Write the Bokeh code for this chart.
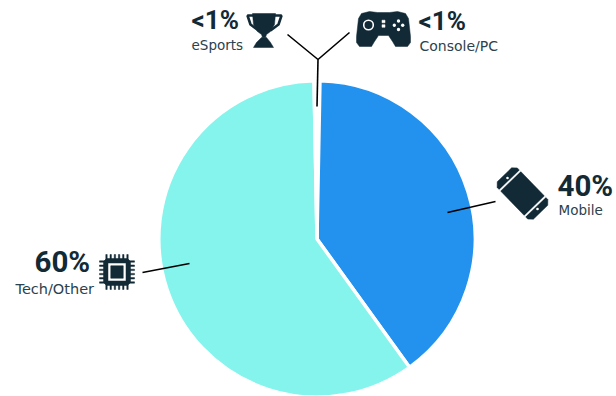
import numpy as np
from bokeh.core.properties import value
from bokeh.embed import file_html
from bokeh.models import Range1d
from bokeh.plotting import figure
from bokeh.resources import INLINE

# Revenue share by segment, clockwise from twelve o'clock
segments = ["eSports", "Mobile", "Tech/Other", "Console/PC"]
shares = [0.3, 40, 60, 0.3]
share_labels = ["<1%", "40%", "60%", "<1%"]
slice_colors = ["#ffffff", "#2392ef", "#84f4ec", "#ffffff"]

W, H = 616, 396
INK = "#122a36"
SUB = "#2b424e"
CX, CY, R = 316.5, 238.5, 158.2


def Y(py):
    return H - np.asarray(py, dtype=float)


p = figure(width=W, height=H, output_backend="svg", toolbar_location=None,
           x_range=Range1d(0, W), y_range=Range1d(0, H), min_border=0)
p.axis.visible = False
p.grid.visible = False
p.outline_line_color = None

# Pie slices, turned so the two small slices straddle twelve o'clock
frac = np.array(shares, dtype=float) / sum(shares)
ends = np.cumsum(frac) * 2 * np.pi
starts = ends - frac * 2 * np.pi
p.wedge(x=CX, y=Y(CY), radius=R,
        start_angle=np.pi / 2 - starts, end_angle=np.pi / 2 - ends,
        direction="clock", fill_color=slice_colors,
        line_color="#ffffff", line_width=3.5)

# Leader lines
for xs, ys in [([447, 495], [212, 201]), ([142, 189], [272, 263]),
               ([316.5, 317.5], [106, 59]), ([287, 317.5, 349], [34, 59, 32])]:
    p.line(xs, Y(ys), line_color="#000000", line_width=1.6)


def label(x, y, text, size, bold=False, color=INK, font="Roboto"):
    p.text([x], [Y(y)], text=[text], text_font=value(font),
           text_font_size=f"{size}px", text_font_style="bold" if bold else "normal",
           text_color=color, text_baseline="middle", text_align="left")


# Value and segment captions
label(557, 185, share_labels[1], 29.5, True)
label(558, 209, segments[1], 13.5, False, SUB, "DejaVu Sans")
label(34, 261, share_labels[2], 29.5, True)
label(15, 288, segments[2], 14.5, False, SUB, "DejaVu Sans")
label(191, 19, share_labels[0], 26, True)
label(191, 44, segments[0], 13.5, False, SUB, "DejaVu Sans")
label(418, 20, share_labels[3], 26, True)
label(419, 45, segments[3], 14, False, SUB, "DejaVu Sans")


def poly(pts, color=INK):
    xs, ys = zip(*pts)
    p.patch(list(xs), Y(ys), fill_color=color, line_color=color, line_width=0.5)


def rot_rect(cx, cy, w, h, deg, color=INK, corner=0):
    # Rectangle turned about its centre, with chamfered corners when asked for
    a = np.radians(deg)
    c = corner
    local = [(-w/2 + c, -h/2), (w/2 - c, -h/2), (w/2, -h/2 + c), (w/2, h/2 - c),
             (w/2 - c, h/2), (-w/2 + c, h/2), (-w/2, h/2 - c), (-w/2, -h/2 + c)]
    poly([(cx + u*np.cos(a) - v*np.sin(a), cy + u*np.sin(a) + v*np.cos(a)) for u, v in local], color)


def dot(x, y, r, color="#ffffff", line=None, width=0):
    p.circle([x], [Y(y)], radius=r, fill_color=color, line_color=line, line_width=width)


# Phone icon
PCX, PCY, PA = 522, 193, -44
rot_rect(PCX, PCY, 28, 52, PA, INK, 4)
a = np.radians(PA)
for off in (-18, 18):
    rot_rect(PCX - off*np.sin(a), PCY + off*np.cos(a), 29, 1.4, PA, "#ffffff")
    dot(PCX - (off*1.2)*np.sin(a), PCY + (off*1.2)*np.cos(a), 1.3)

# Chip icon
CHX, CHY = 116.5, 271.5
for i in np.linspace(-10.5, 10.5, 6):
    rot_rect(CHX + i, CHY, 1.4, 35, 0)
    rot_rect(CHX, CHY + i, 35, 1.4, 0)
rot_rect(CHX, CHY, 27, 27, 0, INK, 3)
rot_rect(CHX, CHY, 17, 17, 0, "#ffffff")
rot_rect(CHX, CHY, 12.5, 12.5, 0)

# Game controller icon
poly([(361, 13), (369, 11), (377, 12), (389, 12), (397, 11), (405, 13), (408, 18),
      (410, 36), (410, 42), (407, 46), (395, 46), (392, 41), (388, 35), (378, 35),
      (374, 41), (371, 46), (359, 46), (356, 42), (356, 36), (358, 18)])
dot(368, 24.5, 4.8, INK, "#ffffff", 1.6)
for dx, dy in [(398, 20.5), (398, 29), (393.8, 24.7), (402.2, 24.7)]:
    dot(dx, dy, 1.7)
for dy in (21, 25.5):
    rot_rect(383, dy, 3, 2.6, 0, "#ffffff")

# Trophy icon
poly([(252, 13), (275, 13), (274, 24), (270, 31), (266, 34), (265, 37), (262, 37),
      (261, 34), (257, 31), (253, 24)])
poly([(261, 37), (266, 37), (270, 42), (273, 47), (253, 47), (256, 42)])
p.line([254, 247, 250, 258], Y([15, 15, 24, 30]), line_color=INK, line_width=2.6)
p.line([274, 281, 278, 270], Y([15, 15, 24, 30]), line_color=INK, line_width=2.6)

open("out.html", "w").write(file_html(p, INLINE))
